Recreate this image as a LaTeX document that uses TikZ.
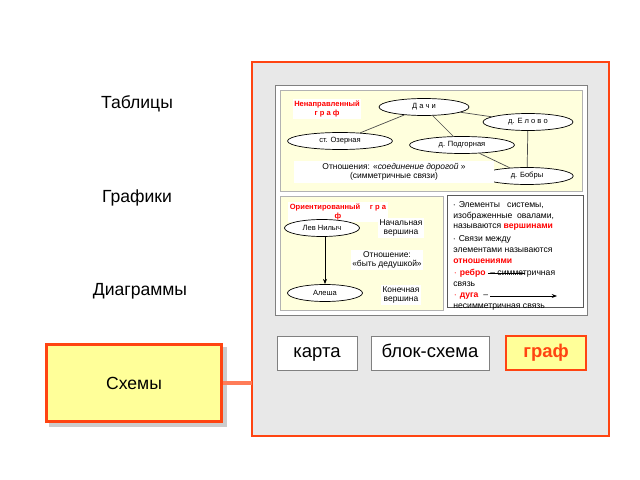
\documentclass[tikz,border=0pt]{standalone}
\usepackage{fontspec}
\setmainfont{Liberation Sans}
\usetikzlibrary{positioning,arrows.meta,shapes.geometric}
\definecolor{frameorange}{HTML}{FF4411}
\definecolor{paneyellow}{HTML}{FFFFDD}
\definecolor{boxyellow}{HTML}{FFFF99}
\definecolor{bggray}{HTML}{E8E8E8}
\tikzset{
  vert/.style={draw, ellipse, fill=white, minimum height=0.34cm, inner sep=0pt, font=\fontsize{4.3}{5}\selectfont},
  lbl/.style={fill=white, align=center, inner sep=1pt, font=\fontsize{4.8}{5.4}\selectfont},
  redlbl/.style={fill=white, align=center, inner sep=1pt, text=red, font=\bfseries\fontsize{4.3}{5}\selectfont},
  btn/.style={draw=gray, fill=white, minimum width=1.6cm, minimum height=0.68cm, text height=7pt, text depth=2pt, font=\fontsize{10.5}{12}\selectfont},
  side/.style={font=\fontsize{10}{11}\selectfont},
  bul/.style={anchor=west, inner sep=0pt, font=\fontsize{4.9}{5.6}\selectfont}
}
\begin{document}
\begin{tikzpicture}[x=0.02cm, y=-0.02cm]
\useasboundingbox (0,0) rectangle (640,480);
% big frame
\draw[frameorange, line width=1.7pt, fill=bggray] (252,62) rectangle (609,436);
% picture frame
\draw[gray, fill=white] (275,85) rectangle (587,315);
\draw[gray!60, fill=paneyellow] (280,90) rectangle (582,191);
\draw[gray!60, fill=paneyellow] (280,196) rectangle (443,310);
\draw[gray!70!black, fill=white] (447,195) rectangle (583,307);
% undirected graph
\node[vert, minimum width=1.8cm] (dachi) at (424,107) {Д а ч и};
\node[vert, minimum width=1.8cm] (elovo) at (528,122) {д. Е л о в о};
\node[vert, minimum width=2.1cm] (ozer) at (340,141) {ст. Озерная};
\node[vert, minimum width=2.1cm] (podg) at (462,145) {д. Подгорная};
\node[vert, minimum width=1.85cm] (bobry) at (527,176) {д. Бобры};
\draw[black!70] (dachi) -- (ozer);
\draw[black!70] (dachi) -- (podg);
\draw[black!70] (dachi) -- (elovo);
\draw[black!70] (elovo) -- (bobry);
\draw[black!70] (podg) -- (bobry);
\node[redlbl] (utitle) at (327,109) {Ненаправленный\\г р а ф};
\node[lbl, minimum width=4cm, minimum height=0.45cm] (urel) at (394,172) {Отношения:  «\textit{соединение   дорогой} »\\(симметричные связи)};
% directed graph
\node[redlbl] (dtitle) at (338,212) {Ориентированный \quad г р а\\ф};
\node[vert, minimum width=1.5cm] (lev) at (322,228) {Лев  Нилыч};
\node[vert, minimum width=1.5cm] (alesha) at (325,293) {Алеша};
\draw[-{Stealth[length=3pt]}] (lev.south -| alesha) -- (alesha.north);
\node[lbl] (start) at (401,228) {Начальная\\вершина};
\node[lbl] (drel) at (387,260) {Отношение:\\«быть дедушкой»};
\node[lbl] (finish) at (401,295) {Конечная\\вершина};
% legend
\node[bul] (l1) at (452,205) {$\cdot$ Элементы \ \ системы,};
\node[bul] (l2) at (453,216) {изображенные \ овалами,};
\node[bul] (l3) at (453,227) {называются \textcolor{red}{\bfseries вершинами}};
\node[bul] (l4) at (452,239) {$\cdot$ Связи между};
\node[bul] (l5) at (453,250) {элементами называются};
\node[bul] (l6) at (453,261) {\textcolor{red}{\bfseries отношениями}};
\node[bul] (l7) at (453,273) {\textcolor{red}{\bfseries $\cdot$ ребро} \ – симметричная};
\node[bul] (l8) at (453,284) {связь};
\node[bul] (l9) at (453,296) {\textcolor{red}{\bfseries $\cdot$ дуга} \ –};
\node[bul] (l10) at (453,307) {несимметричная связь};
\draw (488,273) -- (525,273);
\draw[-{Stealth[length=3pt]}] (490,296) -- (557,296);
% side labels
\node[side] (tables) at (137,104) {Таблицы};
\node[side] (charts) at (137,198) {Графики};
\node[side] (diagr) at (140,291) {Диаграммы};
\fill[gray!40] (49,347) rectangle (227,427);
\node[draw=frameorange, line width=1.7pt, fill=boxyellow, minimum width=3.5cm, minimum height=1.55cm, side] (schemes) at (134,383) {Схемы};
\draw[frameorange!70, line width=2.5pt] (schemes.east) -- (252,383);
% buttons
\node[btn] (map) at (317,353) {карта};
\node[btn, minimum width=2.36cm] (block) at (430,353) {блок-схема};
\node[btn, draw=frameorange, line width=1.2pt, fill=boxyellow, text=frameorange, font=\bfseries\fontsize{10.5}{12}\selectfont] (graph) at (546,353) {граф};
\end{tikzpicture}
\end{document}
